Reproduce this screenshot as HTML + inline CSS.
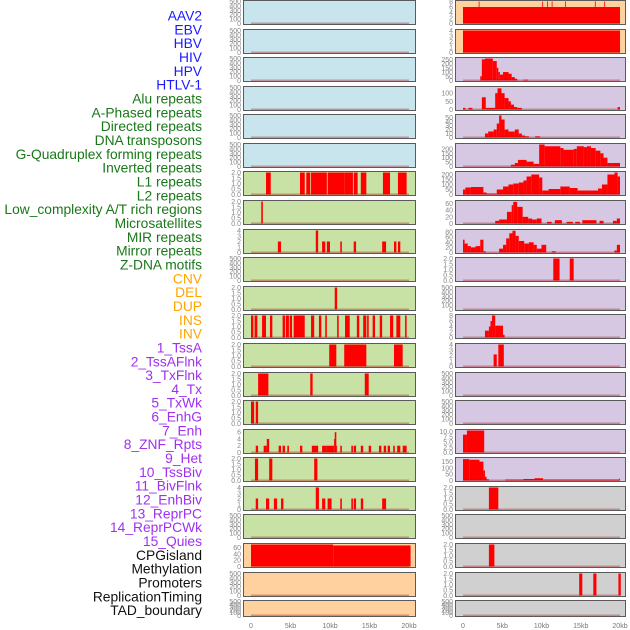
<!DOCTYPE html>
<html><head><meta charset="utf-8"><style>
html,body{margin:0;padding:0;background:#fff;}
svg{display:block;font-family:"Liberation Sans",sans-serif;}
</style></head><body>
<svg id="chart" width="630" height="630" viewBox="0 0 630 630"></svg>
<script>
const trackLabels = ["AAV2","EBV","HBV","HIV","HPV","HTLV-1","Alu repeats","A-Phased repeats","Directed repeats","DNA transposons","G-Quadruplex forming repeats","Inverted repeats","L1 repeats","L2 repeats","Low_complexity A/T rich regions","Microsatellites","MIR repeats","Mirror repeats","Z-DNA motifs","CNV","DEL","DUP","INS","INV","1_TssA","2_TssAFlnk","3_TxFlnk","4_Tx","5_TxWk","6_EnhG","7_Enh","8_ZNF_Rpts","9_Het","10_TssBiv","11_BivFlnk","12_EnhBiv","13_ReprPC","14_ReprPCWk","15_Quies","CPGisland","Methylation","Promoters","ReplicationTiming","TAD_boundary"];
const labelColors = ["#1a1aff","#1a1aff","#1a1aff","#1a1aff","#1a1aff","#1a1aff","#187818","#187818","#187818","#187818","#187818","#187818","#187818","#187818","#187818","#187818","#187818","#187818","#187818","#ffa500","#ffa500","#ffa500","#ffa500","#ffa500","#a030f0","#a030f0","#a030f0","#a030f0","#a030f0","#a030f0","#a030f0","#a030f0","#a030f0","#a030f0","#a030f0","#a030f0","#a030f0","#a030f0","#a030f0","#111","#111","#111","#111","#111"];
const xTicks = [0,5,10,15,20];
const xTickLabels = ["0","5kb","10kb","15kb","20kb"];
const T500 = [0,100,200,300,400,500];
const T2 = [0,0.5,1,1.5,2];
const T4 = [0,1,2,3,4];
// segments: [startKb, endKb, value]
const L7 = [[1.9,2.5,2],[6.2,6.8,2],[7.0,7.5,2],[7.6,9.6,2],[9.7,11.8,2],[11.8,12.9,2],[13.0,13.5,2],[13.9,14.6,2],[16.7,17.6,2],[18.6,19.7,2]];
const L8 = [[1.3,1.5,2]];
const L9 = [[3.4,3.8,2],[8.2,8.5,4],[9.0,9.4,2],[9.6,10.0,2],[11.3,11.5,2],[13.0,13.3,2],[16.6,17.1,2],[18.1,18.4,2],[18.6,18.9,2]];
const L11 = [[10.6,10.9,2]];
const L12 = [[0,0.3,2],[0.45,0.8,2],[1.4,1.9,2],[2.4,2.7,2],[4.0,4.3,2],[4.4,4.8,2],[4.9,5.2,2],[5.4,6.8,2],[7.6,8.0,2],[8.6,8.9,2],[9.4,9.6,2],[10.9,11.1,2],[11.9,12.5,2],[13.4,13.7,2],[14.2,14.6,2],[14.7,14.9,2],[15.4,15.7,2],[16.3,16.6,2],[17.6,18.0,2],[18.4,18.9,2],[19.5,19.7,2]];
const L13 = [[9.9,10.8,2],[11.8,14.6,2],[18.1,19.2,2]];
const L14 = [[0.9,2.2,2],[7.5,7.8,2],[14.4,14.9,2]];
const L15 = [[0,0.4,2],[0.6,0.9,2]];
const L16 = [[0.6,0.9,2],[1.6,2.0,2],[2.0,2.3,4],[3.5,3.8,2],[4.0,4.3,2],[4.6,4.8,2],[6.2,6.5,2],[7.7,8.5,2],[9.0,9.6,2],[9.6,10.5,2],[10.5,10.6,4],[10.6,10.8,6],[10.8,10.9,2],[11.3,11.5,2],[12.7,12.9,2],[13.0,13.3,2],[13.9,14.2,2],[14.9,15.2,2],[16.2,16.5,2],[16.8,17.1,2],[17.3,17.6,2],[18.0,18.2,2],[18.5,18.9,2],[19.2,19.7,2]];
const L17 = [[0.5,0.9,2],[2.3,2.7,2],[8.0,8.4,2]];
const L18 = [[0.6,0.9,2],[1.9,2.3,2],[2.9,3.3,2],[3.8,4.1,2],[8.2,8.6,4],[9.0,9.4,2],[9.7,10.2,2],[11.3,11.5,2],[12.7,12.9,2],[13.0,13.3,2],[13.9,14.2,2],[16.6,17.1,2]];
const L20 = [[0,10.4,70],[10.4,20.2,67]];
const R1 = [[0,20,6],[2.0,2.1,8],[10.1,10.2,8],[10.7,10.8,8],[11.3,11.4,8],[13.0,13.1,8],[16.8,16.9,8],[18.0,18.1,8]];
const R2 = [[0,20,4]];
const R3 = [[2.2,2.4,50],[2.4,2.8,250],[2.8,3.8,260],[3.8,4.3,230],[4.3,4.5,150],[4.5,4.7,100],[4.7,5.1,70],[5.1,5.8,100],[5.8,6.2,80],[6.2,6.6,40],[6.6,6.9,20],[7.7,8.3,10]];
const R4 = [[0,0.3,10],[0.7,1.2,10],[2.4,2.9,75],[2.9,4.1,10],[4.1,4.4,100],[4.4,4.9,130],[4.9,5.3,100],[5.3,5.8,70],[5.8,6.1,50],[6.1,6.5,30],[6.5,6.9,15],[6.9,7.5,10],[19.7,20,15]];
const R5 = [[2.8,3.2,10],[3.2,3.9,15],[3.9,4.3,20],[4.3,4.6,35],[4.6,4.9,55],[4.9,5.3,45],[5.3,5.8,20],[5.8,6.6,15],[6.6,7.1,20],[7.1,7.5,10],[7.5,7.9,5],[7.9,8.4,3],[9.2,9.8,3]];
const R6 = [[6.1,6.6,20],[6.6,7.0,40],[7.0,8.1,75],[8.1,9.0,55],[9.0,9.7,30],[9.7,10.4,250],[10.4,12.4,230],[12.4,12.8,210],[12.8,14.1,190],[14.1,14.5,200],[14.5,15.4,230],[15.4,15.8,220],[15.8,16.3,230],[16.3,16.9,210],[16.9,17.5,180],[17.5,17.9,150],[17.9,18.4,100],[18.4,18.9,40],[18.9,20,40]];
const R7 = [[0,0.3,50],[0.3,1.0,70],[1.0,2.6,75],[2.6,3.0,20],[3.0,3.4,10],[3.4,4.3,10],[4.3,5.1,50],[5.1,5.8,80],[5.8,6.4,100],[6.4,7.1,110],[7.1,7.7,120],[7.7,8.1,140],[8.1,8.7,180],[8.7,9.7,200],[9.7,10.1,170],[10.1,10.9,40],[10.9,12.4,55],[12.4,13.6,80],[13.6,14.6,65],[14.6,17.2,40],[17.2,17.7,60],[17.7,18.4,100],[18.4,19.3,200],[19.3,19.7,220],[19.7,20,180]];
const R8 = [[4.1,4.6,8],[4.6,5.6,12],[5.6,6.2,35],[6.2,6.4,55],[6.4,6.9,65],[6.9,7.6,50],[7.6,8.3,20],[8.3,8.8,15],[8.8,9.4,12],[9.4,10.0,15],[10.7,11.3,5],[11.7,12.6,10],[13.2,14.0,5],[14.3,14.9,5],[15.2,17.0,10],[17.4,17.9,8],[19.1,19.6,8],[19.6,20,15]];
const R9 = [[0,0.2,50],[0.2,0.6,35],[0.6,1.0,25],[1.0,1.6,20],[1.6,2.2,25],[2.2,2.6,50],[2.6,2.9,5],[4.6,5.1,15],[5.1,5.5,30],[5.5,5.9,55],[5.9,6.3,75],[6.3,6.7,85],[6.7,7.1,65],[7.1,7.8,45],[7.8,8.4,35],[8.4,9.0,40],[9.0,9.4,30],[9.4,10.0,15],[10.0,10.6,30],[11.3,11.8,5],[19.3,19.6,8],[19.6,20,30]];
const R10 = [[11.5,12.3,2],[13.6,14.1,2]];
const R12 = [[2.8,3.3,2.5],[3.3,3.5,4],[3.5,3.7,6],[3.7,4.1,8],[4.1,5.1,4.3],[5.1,5.3,1]];
const R13 = [[3.9,4.3,2.2],[4.5,5.2,4]];
const R16 = [[0,0.5,8.5],[0.5,2.7,10.5]];
const R17 = [[0,0.8,170],[0.8,2.1,165],[2.1,2.6,150],[2.6,2.8,80],[2.8,3.0,30],[3.0,3.3,10],[5.4,7.7,8],[7.7,9.1,12],[9.1,10.2,18],[10.2,19.9,8],[19.9,20,15]];
const R18 = [[3.3,4.5,2]];
const R20 = [[3.3,4.0,2]];
const R21 = [[14.8,15.2,2],[16.6,17.0,2],[19.8,20.1,2]];

const BLUE="#c8e4ec", GREEN="#c8e1a4", ORANGE="#ffd19e", PURPLE="#d6c7e2", GREY="#d0d0d0";
const leftPanels = [
 [BLUE,500,T500,[]],[BLUE,500,T500,[]],[BLUE,500,T500,[]],[BLUE,500,T500,[]],[BLUE,500,T500,[]],[BLUE,500,T500,[]],
 [GREEN,2,T2,L7],[GREEN,2,T2,L8],[GREEN,4,T4,L9],[GREEN,500,T500,[]],[GREEN,2,T2,L11],[GREEN,2,T2,L12],
 [GREEN,2,T2,L13],[GREEN,2,T2,L14],[GREEN,2,T2,L15],[GREEN,6.5,[0,2,4,6],L16],[GREEN,2,T2,L17],[GREEN,4,T4,L18],
 [GREEN,500,T500,[]],[ORANGE,70,[0,20,40,60],L20],[ORANGE,500,T500,[]],[ORANGE,500,T500,[]]
];
const rightPanels = [
 [ORANGE,8,[0,2,4,6,8],R1],[ORANGE,4,T4,R2],[PURPLE,260,[0,50,100,150,200,250],R3],[PURPLE,135,[0,50,100],R4],
 [PURPLE,55,[0,10,20,30,40,50],R5],[PURPLE,250,[0,50,100,150,200],R6],[PURPLE,220,[0,50,100,150,200],R7],
 [PURPLE,66,[0,20,40,60],R8],[PURPLE,86,[0,20,40,60,80],R9],[PURPLE,2,T2,R10],[PURPLE,500,T500,[]],
 [PURPLE,8,[0,2,4,6,8],R12],[PURPLE,4,T4,R13],[PURPLE,500,T500,[]],[PURPLE,500,T500,[]],
 [PURPLE,10.5,[0,2.5,5,7.5,10],R16],[PURPLE,175,[0,50,100,150],R17],[GREY,2,T2,R18],[GREY,500,T500,[]],
 [GREY,2,T2,R20],[GREY,2,T2,R21],[GREY,500,T500,[]]
];

const NS="http://www.w3.org/2000/svg";
const svg=document.getElementById('chart');
function mk(tag,attrs,parent){const e=document.createElementNS(NS,tag);for(const k in attrs)e.setAttribute(k,attrs[k]);(parent||svg).appendChild(e);return e;}

trackLabels.forEach((t,i)=>{
  const el=mk('text',{x:202,y:20.5+i*13.83,'text-anchor':'end','font-size':13.8,fill:labelColors[i]});
  el.textContent=t;
  
  
});

const cols=[{x0:243,x1:416,z:251,s:7.9,panels:leftPanels,name:'left'},{x0:455,x1:626,z:463,s:7.85,panels:rightPanels,name:'right'}];
cols.forEach(c=>{
  const xs=kb=>c.z+kb*c.s;
  c.panels.forEach((p,i)=>{
    const top=Math.round(i*28.58), h=(i===21)?17:25, bot=top+h;
    const g=mk('g',{});
    
    
    const r=mk('rect',{x:c.x0+0.5,y:top+0.5,width:c.x1-c.x0-1,height:h-1,fill:p[0],stroke:'none'},g);
    
    
    const ys=v=>(bot-1.5)-v/p[1]*(h-3);
    p[3].forEach(s=>{
      const b=mk('rect',{x:xs(s[0]),y:ys(s[2]),width:Math.max(0.8,xs(s[1])-xs(s[0])),height:(bot-1.5)-ys(s[2]),fill:'#ff0000'},g);
      
      
    });
    const bl=mk('line',{x1:xs(0),x2:xs(20),y1:bot-1.8,y2:bot-1.8,stroke:'rgba(170,0,0,0.45)','stroke-width':1.2},g);
    
    
    mk('rect',{x:c.x0+0.5,y:top+0.5,width:c.x1-c.x0-1,height:h-1,fill:'none',stroke:'#5a5a5a','stroke-width':1},g);
    const dec=p[2].some(t=>t%1!==0);
    p[2].forEach(t=>{
      const tl=mk('text',{x:c.x0-2,y:ys(t)+2.5,'text-anchor':'end','font-size':7,fill:'#888'},g);
      tl.textContent=dec?t.toFixed(1):String(t);
      
      
    });
  });
  xTicks.forEach((t,j)=>{
    const tl=mk('text',{x:xs(t),y:628,'text-anchor':'middle','font-size':7,fill:'#777'});
    tl.textContent=xTickLabels[j];
    
    
  });
});
</script>
</body></html>
